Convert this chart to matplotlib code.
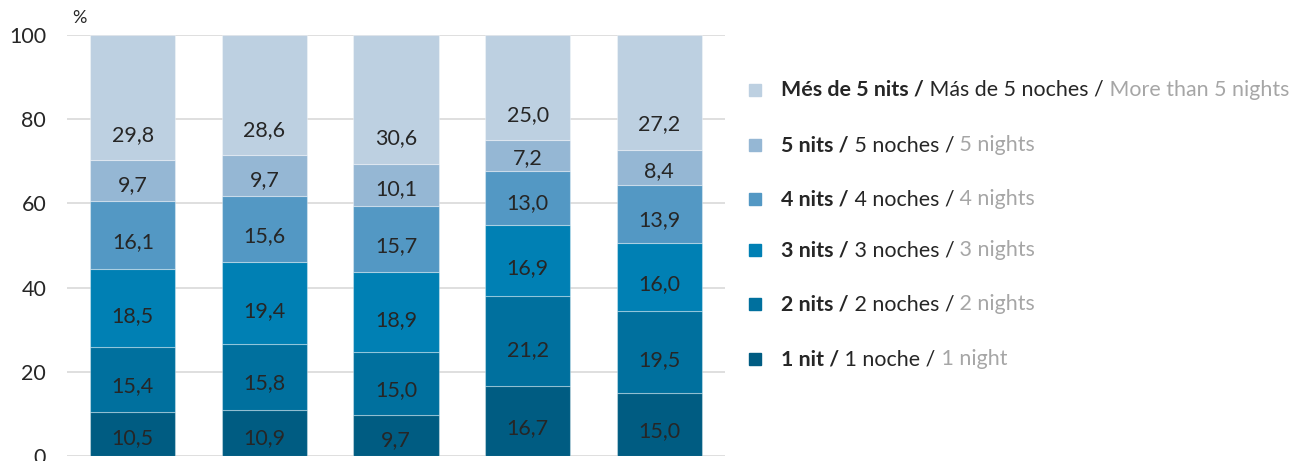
import matplotlib.pyplot as plt
from matplotlib.patches import Rectangle
import numpy as np

# values per bar, bottom (1 nit) to top (more than 5 nits)
one_night = [10.5, 10.9, 9.7, 16.7, 15.0]
two_nights = [15.4, 15.8, 15.0, 21.2, 19.5]
three_nights = [18.5, 19.4, 18.9, 16.9, 16.0]
four_nights = [16.1, 15.6, 15.7, 13.0, 13.9]
five_nights = [9.7, 9.7, 10.1, 7.2, 8.4]
more_nights = [29.8, 28.6, 30.6, 25.0, 27.2]

series = [one_night, two_nights, three_nights, four_nights, five_nights, more_nights]
colors = ['#005c82', '#00709e', '#0080b4', '#5398c4', '#95b7d4', '#bdd0e1']

# legend labels: catalan (bold) / spanish / english (grey)
cat_labels = ['1 nit /', '2 nits /', '3 nits /', '4 nits /', '5 nits /', 'Més de 5 nits /']
es_labels = ['1 noche /', '2 noches /', '3 noches /', '4 noches /', '5 noches /', 'Más de 5 noches /']
en_labels = ['1 night', '2 nights', '3 nights', '4 nights', '5 nights', 'More than 5 nights']

plt.rcParams['font.family'] = ['Lato', 'DejaVu Sans']

W, H = 1292, 461
fig = plt.figure(figsize=(W / 100, H / 100), dpi=100)
ax = fig.add_axes([67 / W, 5 / H, (725 - 67) / W, (456 - 35) / H])

x = np.arange(len(one_night))
bottom = np.zeros(len(x))
for k, (vals, col) in enumerate(zip(series, colors)):
    vals = np.array(vals)
    ax.bar(x, vals, bottom=bottom, width=0.646, color=col,
           edgecolor=(1, 1, 1, 0.35), linewidth=0.8, zorder=3)
    for i in range(len(x)):
        if k == len(series) - 1:
            ypos = bottom[i] + 6
        else:
            ypos = bottom[i] + vals[i] / 2 - 0.1 * vals[i]
        ax.text(x[i], ypos, f'{vals[i]:.1f}'.replace('.', ','), ha='center', va='center',
                fontsize=15.5, color='#262626', zorder=4)
    bottom += vals

ax.set_xlim(-0.5, 4.5)
ax.set_ylim(0, 100)
ax.set_yticks([0, 20, 40, 60, 80, 100])
ax.set_xticks([])
ax.grid(axis='y', color='#d9d9d9', linewidth=1.2, zorder=0)
for s in ax.spines.values():
    s.set_visible(False)
ax.tick_params(axis='y', length=0, labelsize=15.5, labelcolor='#262626', pad=15)
fig.text(72 / W, 1 - 18 / H, '%', fontsize=13, color='#262626', va='center')

# legend drawn by hand for the three-colour text
row_y = [359, 304, 250, 199, 145, 90]
fs = 15.4
for k in range(len(series)):
    yc = 1 - row_y[k] / H
    fig.add_artist(Rectangle((749 / W, yc - 6 / H), 12 / W, 12 / H,
                             transform=fig.transFigure, color=colors[k]))
    t1 = fig.text(781 / W, yc, cat_labels[k], fontsize=fs, fontweight='bold',
                  color='#262626', va='center')
    t2 = ax.annotate(' ' + es_labels[k], xy=(1, 0.5), xycoords=t1, va='center',
                     fontsize=fs, color='#262626', annotation_clip=False)
    ax.annotate(' ' + en_labels[k], xy=(1, 0.5), xycoords=t2, va='center',
                fontsize=fs, color='#a6a6a6', annotation_clip=False)

fig.savefig('out.png', dpi=100)
